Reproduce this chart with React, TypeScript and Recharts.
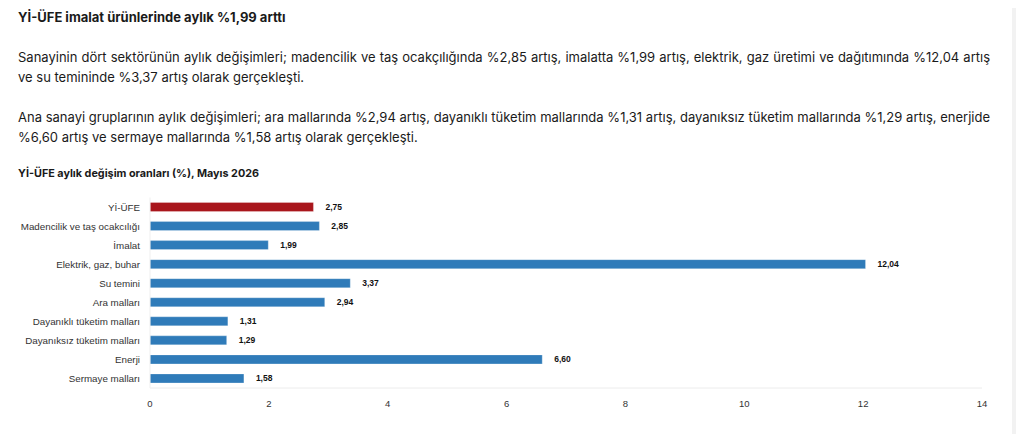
import { BarChart, Bar, XAxis, YAxis, Cell, LabelList } from 'recharts';

const categories = [
  'Yİ-ÜFE',
  'Madencilik ve taş ocakcılığı',
  'İmalat',
  'Elektrik, gaz, buhar',
  'Su temini',
  'Ara malları',
  'Dayanıklı tüketim malları',
  'Dayanıksız tüketim malları',
  'Enerji',
  'Sermaye malları',
];
const values = [2.75, 2.85, 1.99, 12.04, 3.37, 2.94, 1.31, 1.29, 6.6, 1.58];
const xTicks = [0, 2, 4, 6, 8, 10, 12, 14];

const RED = '#a9161c';
const BLUE = '#2f7bb9';
const chartFont = '"Liberation Sans", Arial, sans-serif';
const textFont = 'Inter, "Noto Sans", sans-serif';

const data = categories.map((name, i) => ({ name, value: values[i] }));

const fmt = (v: number) => v.toFixed(2).replace('.', ',');

// category labels on one line (the default tick wraps long names)
function CategoryTick({ x, y, payload }: any) {
  return (
    <text x={x} y={y} dy="0.355em" textAnchor="end" fill="#333" fontSize={9.8} fontFamily={chartFont}>
      {payload.value}
    </text>
  );
}

export default function App() {
  return (
    <div
      style={{
        position: 'relative',
        margin: -8,
        width: 1024,
        height: 442,
        overflow: 'hidden',
        background: '#fff',
        fontFamily: textFont,
        color: '#1a1a1a',
      }}
    >
      <div style={{ position: 'absolute', left: 1012, top: 0, width: 12, height: 442, background: '#f2f2f2' }} />

      <div style={{ position: 'absolute', left: 18, top: 7, lineHeight: '20px', fontSize: 13, fontWeight: 700 }}>
        Yİ-ÜFE imalat ürünlerinde aylık %1,99 arttı
      </div>

      <div style={{ position: 'absolute', left: 18, top: 47, width: 972, lineHeight: '20px', fontSize: 13, textAlign: 'justify' }}>
        Sanayinin dört sektörünün aylık değişimleri; madencilik ve taş ocakçılığında %2,85 artış, imalatta %1,99 artış,
        elektrik, gaz üretimi ve dağıtımında %12,04 artış ve su temininde %3,37 artış olarak gerçekleşti.
      </div>

      <div style={{ position: 'absolute', left: 18, top: 107, width: 972, lineHeight: '20px', fontSize: 13, textAlign: 'justify' }}>
        Ana sanayi gruplarının aylık değişimleri; ara mallarında %2,94 artış, dayanıklı tüketim mallarında %1,31 artış,
        dayanıksız tüketim mallarında %1,29 artış, enerjide %6,60 artış ve sermaye mallarında %1,58 artış olarak
        gerçekleşti.
      </div>

      <div style={{ position: 'absolute', left: 18, top: 166, lineHeight: '16px', fontSize: 10.8, fontWeight: 700 }}>
        Yİ-ÜFE aylık değişim oranları (%), Mayıs 2026
      </div>

      <div style={{ position: 'absolute', left: 0, top: 190 }}>
        <BarChart
          width={1000}
          height={238}
          data={data}
          layout="vertical"
          margin={{ top: 7.5, right: 18, left: 0, bottom: 10 }}
        >
          <XAxis
            type="number"
            domain={[0, 14]}
            ticks={xTicks}
            interval={0}
            axisLine={{ stroke: '#ececec' }}
            tickLine={false}
            tickMargin={6}
            height={30}
            tick={{ fill: '#333', fontSize: 9.5, fontFamily: chartFont }}
          />
          <YAxis
            type="category"
            dataKey="name"
            width={150}
            axisLine={{ stroke: '#efefef' }}
            tickLine={false}
            tickMargin={4}
            interval={0}
            tick={<CategoryTick />}
          />
          <Bar dataKey="value" barSize={9} isAnimationActive={false}>
            {data.map((d, i) => (
              <Cell key={d.name} fill={i === 0 ? RED : BLUE} stroke="#ffffff" strokeOpacity={0.25} strokeWidth={1} />
            ))}
            <LabelList
              dataKey="value"
              position="right"
              offset={12}
              formatter={(v: number) => fmt(v)}
              style={{ fill: '#111', fontSize: 8.5, fontWeight: 700, fontFamily: chartFont }}
            />
          </Bar>
        </BarChart>
      </div>
    </div>
  );
}
